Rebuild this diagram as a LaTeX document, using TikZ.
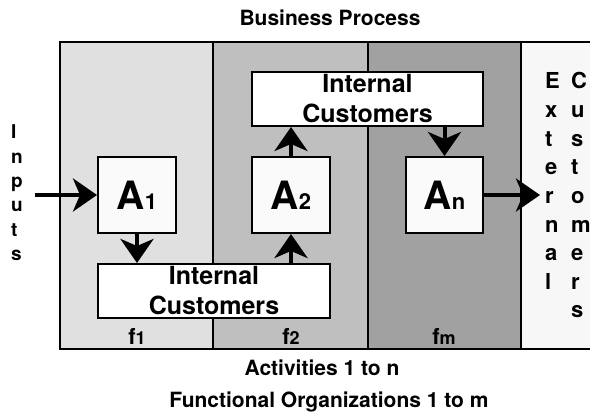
\documentclass[tikz,border=0pt]{standalone}
\usepackage{fontspec}
\setmainfont{TeX Gyre Heros}
\usetikzlibrary{arrows.meta}

\definecolor{colA}{gray}{0.88}
\definecolor{colB}{gray}{0.75}
\definecolor{colC}{gray}{0.63}
\definecolor{colExt}{gray}{0.97}
\definecolor{colBox}{gray}{0.98}

\newcommand{\fs}[1]{\fontsize{#1}{#1}\selectfont\bfseries}

\tikzset{
  frameline/.style={line width=2pt},
  actbox/.style={draw, line width=2pt, fill=colBox, inner sep=0pt,
    minimum width=78pt, minimum height=76pt, font=\fs{39}},
  icbox/.style={draw, line width=2pt, fill=white, inner sep=0pt,
    align=center, font=\fontsize{25}{30}\selectfont\bfseries},
  flow/.style={line width=4pt,
    -{Stealth[length=24pt, width=33pt, inset=7pt]}},
  lbl/.style={inner sep=0pt, font=\fs{21}},
  flbl/.style={inner sep=0pt, anchor=base, font=\fs{22}},
  letter/.style={inner sep=0pt, anchor=base west}
}

\begin{document}
\begin{tikzpicture}[x=1pt, y=-1pt]
  \useasboundingbox (0,0) rectangle (590,412);

  % functional columns
  \fill[colA]   (60,42)  rectangle (213,349);
  \fill[colB]   (213,42) rectangle (368,349);
  \fill[colC]   (368,42) rectangle (521,349);
  \fill[colExt] (521,42) rectangle (590,349);
  \draw[frameline] (590,42) -- (60,42) -- (60,349) -- (590,349);
  \draw[frameline] (213,42) -- (213,349);
  \draw[frameline] (368,42) -- (368,349);
  \draw[frameline] (521,42) -- (521,349);

  % activities and internal customers
  \node[actbox] (a1) at (137,195) {A{\fs{22}1}};
  \node[actbox] (a2) at (291,195) {A{\fs{22}2}};
  \node[actbox, minimum width=77pt] (an) at (444.5,195) {A{\fs{22}n}};
  \node[icbox, minimum width=232pt, minimum height=54pt] (icb) at (214,291)
    {Internal\\Customers};
  \node[icbox, minimum width=231pt, minimum height=54pt] (ict) at (367.5,99)
    {Internal\\Customers};

  % flows
  \coordinate (inp) at (35,195);
  \coordinate (outp) at (540,195);
  \draw[flow] (inp) -- (a1.west);
  \draw[flow] (a1.south) -- (a1.south |- icb.north);
  \draw[flow] (a2.south |- icb.north) -- (a2.south);
  \draw[flow] (a2.north) -- (a2.north |- ict.south);
  \draw[flow] (an.north |- ict.south) -- (an.north);
  \draw[flow] (an.east) -- (outp);

  % column labels
  \node[flbl] (f1) at (137,344) {f{\fs{18}1}};
  \node[flbl] (f2) at (291,344) {f{\fs{18}2}};
  \node[flbl] (fm) at (444,344) {f{\fs{18}m}};

  % titles
  \node[lbl] (title) at (330,17.5) {Business Process};
  \node[lbl, anchor=base] (acts) at (322,375) {Activities 1 to n};
  \node[lbl, anchor=base] (orgs) at (329,407) {Functional Organizations 1 to m};

  % vertical words
  \foreach \c [count=\i from 0] in {I,n,p,u,t,s}
    \node[letter, font=\fs{19}] (inp\i) at (11,139+24.3*\i) {\c};
  \foreach \c [count=\i from 0] in {E,x,t,e,r,n,a,l}
    \node[letter, font=\fs{22}] (ext\i) at (545,89+28.6*\i) {\c};
  \foreach \c [count=\i from 0] in {C,u,s,t,o,m,e,r,s}
    \node[letter, font=\fs{22}] (cus\i) at (571,89+28.6*\i) {\c};
\end{tikzpicture}
\end{document}
